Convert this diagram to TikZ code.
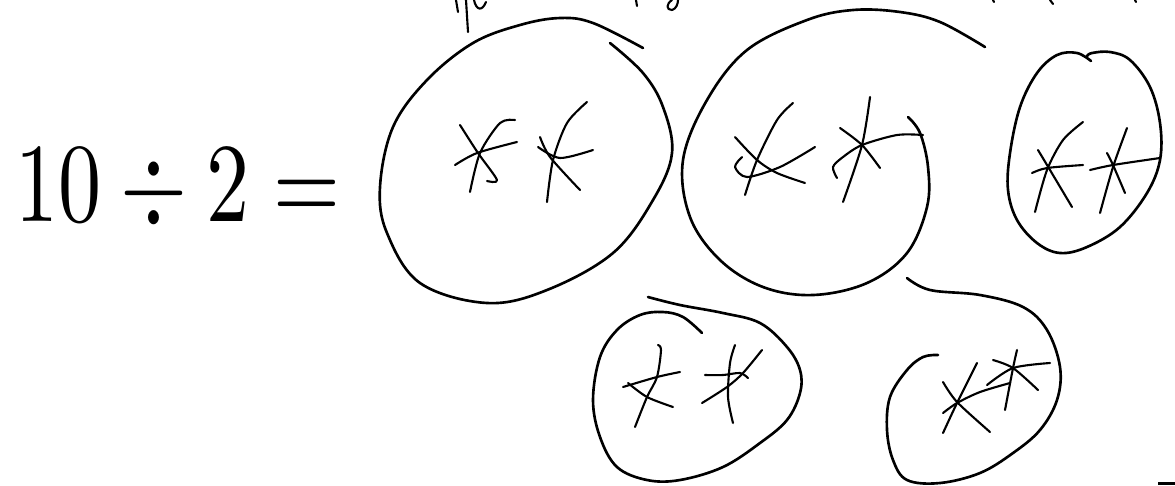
\documentclass[tikz,border=0pt]{standalone}
\usepackage{graphicx}
\begin{document}
\begin{tikzpicture}[x=0.02cm,y=-0.02cm,
  ink/.style={line width=1.5pt,line cap=round,line join=round,black},
  fine/.style={line width=1.2pt,line cap=round,line join=round,black}]
\useasboundingbox (0,0) rectangle (1175,485);
\fill[white] (0,0) rectangle (1175,485);
% equation text
\node[inner sep=0pt,anchor=center] (eq) at (178,190) {\resizebox{6.5cm}{1.45cm}{$10\div2=$}};
% cut-off text fragments at top edge
\draw[fine] (456,0) -- (458,12);
\draw[fine] (466,0) -- (468,32);
\draw[fine] (474,0) .. controls (476,10) and (482,12) .. (486,2);
\draw[fine] (636,0) -- (637,6);
\draw[fine] (672,0) .. controls (666,4) and (666,10) .. (672,10) .. controls (676,9) and (678,4) .. (678,0);
\draw[fine] (993,0) -- (994,2);
\draw[fine] (1050,0) -- (1053,4);
\draw[fine] (1135,0) -- (1136,2);
% scanner mark
\fill[black] (1158,482) rectangle (1175,485);
% big circle 1
\draw[ink] plot[smooth,tension=0.6] coordinates {(643,48) (593,23) (560,18) (520,25) (473,43) (427,80) (393,127) (380,187) (387,233) (420,283) (487,303) (547,290) (613,253) (653,200) (672,153) (663,107) (643,73) (610,43)};
% stars in circle 1
\draw[fine] plot[smooth] coordinates {(460,125) (478,153) (497,180) (487,181)};
\draw[fine] plot[smooth] coordinates {(470,192) (480,153) (500,123) (515,120)};
\draw[fine] plot[smooth] coordinates {(455,165) (477,153) (517,142)};
\draw[fine] plot[smooth] coordinates {(540,137) (550,157) (580,190)};
\draw[fine] plot[smooth] coordinates {(547,202) (553,160) (567,123) (587,102)};
\draw[fine] plot[smooth] coordinates {(538,147) (560,158) (593,150)};
% big circle 2
\draw[ink] plot[smooth,tension=0.6] coordinates {(985,47) (940,22) (900,12) (853,10) (807,20) (747,50) (707,100) (683,160) (690,217) (720,260) (763,287) (813,295) (867,283) (907,253) (927,207) (928,167) (920,133) (908,117)};
% stars in circle 2
\draw[fine] plot[smooth] coordinates {(735,137) (757,160) (777,173) (805,183)};
\draw[fine] plot[smooth] coordinates {(745,195) (757,160) (777,120) (793,103)};
\draw[fine] plot[smooth] coordinates {(742,157) (735,167) (747,177) (780,167) (815,147)};
\draw[fine] plot[smooth] coordinates {(840,128) (862,145) (880,168)};
\draw[fine] plot[smooth] coordinates {(843,202) (862,145) (870,97)};
\draw[fine] plot[smooth] coordinates {(837,178) (833,167) (843,157) (862,145) (897,135) (923,135)};
% small circle 3
\draw[ink] plot[smooth,tension=0.6] coordinates {(1091,61) (1077,53) (1057,55) (1037,73) (1020,107) (1010,153) (1008,190) (1017,220) (1037,243) (1060,253) (1087,247) (1120,227) (1147,193) (1160,160) (1160,123) (1150,87) (1130,60) (1110,52) (1092,53) (1087,56)};
% stars in circle 3
\draw[fine] plot[smooth] coordinates {(1038,150) (1047,165) (1072,207)};
\draw[fine] plot[smooth] coordinates {(1035,212) (1047,170) (1063,140) (1083,122)};
\draw[fine] plot[smooth] coordinates {(1032,173) (1047,168) (1083,165)};
\draw[fine] plot[smooth] coordinates {(1107,153) (1113,165) (1125,193)};
\draw[fine] plot[smooth] coordinates {(1100,213) (1113,167) (1127,128)};
\draw[fine] plot[smooth] coordinates {(1090,170) (1113,165) (1160,158)};
% blob 4 (bottom left)
\draw[ink] plot[smooth,tension=0.6] coordinates {(648,297) (680,305) (723,313) (760,323) (787,347) (800,370) (800,393) (787,420) (760,443) (723,467) (680,480) (647,480) (617,467) (600,437) (593,400) (600,357) (617,330) (640,315) (663,312) (683,317) (702,333)};
% stars in blob 4
\draw[fine] plot[smooth] coordinates {(658,345) (661,350) (657,377) (647,397) (635,427)};
\draw[fine] plot[smooth] coordinates {(623,387) (657,377) (680,372)};
\draw[fine] plot[smooth] coordinates {(628,383) (647,397) (673,407)};
\draw[fine] plot[smooth] coordinates {(733,423) (728,397) (730,363) (735,345)};
\draw[fine] plot[smooth] coordinates {(702,403) (727,387) (743,373) (762,350)};
\draw[fine] plot[smooth] coordinates {(705,375) (723,375) (740,373) (748,378)};
% blob 5 (bottom right)
\draw[ink] plot[smooth,tension=0.6] coordinates {(907,278) (930,290) (980,295) (1023,307) (1047,330) (1060,367) (1057,400) (1040,430) (1013,453) (980,473) (940,483) (907,480) (893,460) (887,430) (890,397) (907,370) (923,357) (938,355)};
% stars in blob 5
\draw[fine] plot[smooth] coordinates {(943,382) (957,402) (990,432)};
\draw[fine] plot[smooth] coordinates {(943,433) (957,403) (977,363)};
\draw[fine] plot[smooth] coordinates {(943,413) (957,403) (980,392) (1010,383)};
\draw[fine] plot[smooth] coordinates {(1017,350) (1013,368) (1005,410)};
\draw[fine] plot[smooth] coordinates {(993,360) (1013,368) (1038,390)};
\draw[fine] plot[smooth] coordinates {(987,385) (1013,368) (1050,363)};
\end{tikzpicture}
\end{document}
